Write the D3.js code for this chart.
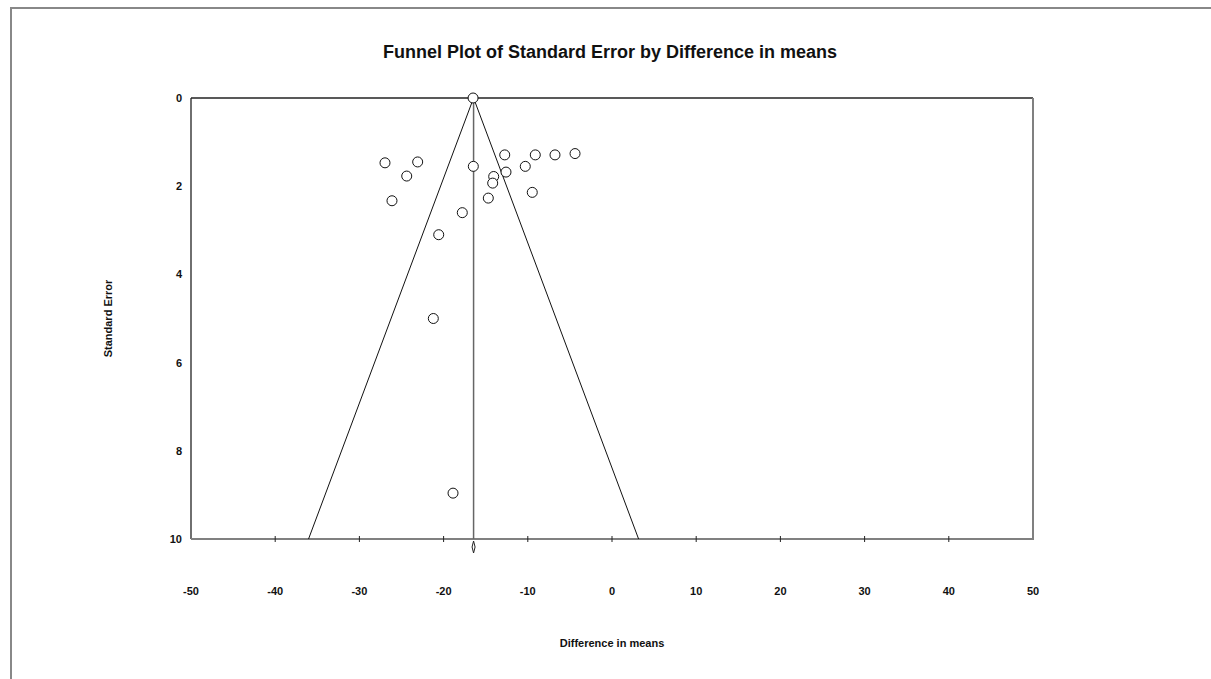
<!DOCTYPE html>
<html>
<head>
<meta charset="utf-8">
<script src="https://cdn.jsdelivr.net/npm/d3@7"></script>
<style>
  body { margin: 0; background: #fff; }
  svg { display: block; font-family: "Liberation Sans", Arial, sans-serif; }
</style>
</head>
<body>
<div id="chart"></div>
<script>
'use strict';

// studies: difference in means and its standard error
var diffs = [-26.96, -23.08, -24.38, -26.13, -20.58, -16.47, -12.74, -9.11, -6.77, -4.39,
             -10.30, -12.59, -14.05, -14.17, -9.47, -14.69, -17.78, -21.22, -18.88, -16.50];
var stdErrs = [1.47, 1.45, 1.77, 2.33, 3.10, 1.55, 1.29, 1.29, 1.29, 1.26,
               1.55, 1.68, 1.78, 1.93, 2.14, 2.27, 2.60, 5.00, 8.96, 0.00];

// combined estimate and its interval (diamond under the axis)
var pooled = [-16.44];
var pooledCI = [-16.62, -16.26];

var xTicks = [-50, -40, -30, -20, -10, 0, 10, 20, 30, 40, 50];
var yTicks = [0, 2, 4, 6, 8, 10];

var width = 1211;
var height = 679;
var margin = {top: 98, right: 178, bottom: 140, left: 191};

var svg = d3.select('#chart').append('svg')
	.attr('width', width)
	.attr('height', height);

// outer frame
svg.append('rect')
	.attr('x', 11).attr('y', 8)
	.attr('width', width + 20).attr('height', height + 20)
	.style('fill', 'none')
	.style('stroke', '#888')
	.style('stroke-width', 2);

var x = d3.scaleLinear().domain([-50, 50]).range([margin.left, width - margin.right]);
var y = d3.scaleLinear().domain([0, 10]).range([margin.top, height - margin.bottom]);

var x0 = x.range()[0], x1 = x.range()[1];
var y0 = y.range()[0], y1 = y.range()[1];

svg.append('text')
	.attr('x', 610).attr('y', 58)
	.attr('text-anchor', 'middle')
	.style('font-size', '18px')
	.style('font-weight', 'bold')
	.style('fill', '#111')
	.text('Funnel Plot of Standard Error by Difference in means');

// plot box: dark top/left, grey bottom/right
svg.append('line').attr('x1', x0).attr('y1', y0).attr('x2', x1).attr('y2', y0)
	.style('stroke', '#222').style('stroke-width', 1.3);
svg.append('line').attr('x1', x0).attr('y1', y0).attr('x2', x0).attr('y2', y1)
	.style('stroke', '#222').style('stroke-width', 1.3);
svg.append('line').attr('x1', x0).attr('y1', y1).attr('x2', x1 + 1).attr('y2', y1)
	.style('stroke', '#808080').style('stroke-width', 2);
svg.append('line').attr('x1', x1).attr('y1', y0).attr('x2', x1).attr('y2', y1)
	.style('stroke', '#808080').style('stroke-width', 2);

// x ticks crossing the bottom line
svg.append('g').selectAll('line')
	.data(xTicks.slice(1, -1))
	.enter().append('line')
	.attr('x1', function(d){ return x(d); })
	.attr('x2', function(d){ return x(d); })
	.attr('y1', y1 - 3).attr('y2', y1 + 3)
	.style('stroke', '#222').style('stroke-width', 1);

svg.append('g').selectAll('text')
	.data(xTicks)
	.enter().append('text')
	.attr('x', function(d){ return x(d); })
	.attr('y', 595)
	.attr('text-anchor', 'middle')
	.style('font-size', '11px')
	.style('font-weight', 'bold')
	.style('fill', '#111')
	.text(function(d){ return d; });

svg.append('g').selectAll('text')
	.data(yTicks)
	.enter().append('text')
	.attr('x', 182)
	.attr('y', function(d){ return y(d) + 4; })
	.attr('text-anchor', 'end')
	.style('font-size', '11px')
	.style('font-weight', 'bold')
	.style('fill', '#111')
	.text(function(d){ return d; });

svg.append('text')
	.attr('x', 612).attr('y', 647)
	.attr('text-anchor', 'middle')
	.style('font-size', '11px')
	.style('font-weight', 'bold')
	.style('fill', '#111')
	.text('Difference in means');

svg.append('text')
	.attr('transform', 'translate(112,' + ((y0 + y1) / 2) + ') rotate(-90)')
	.attr('text-anchor', 'middle')
	.style('font-size', '11px')
	.style('font-weight', 'bold')
	.style('fill', '#111')
	.text('Standard Error');

// mean line
svg.append('line')
	.attr('x1', x(pooled[0])).attr('x2', x(pooled[0]))
	.attr('y1', y0).attr('y2', y1)
	.style('stroke', '#666').style('stroke-width', 1.5);

// funnel, 95% limits
var line = d3.line()
	.x(function(d){ return x(d[0]); })
	.y(function(d){ return y(d[1]); });
var seMax = 10;
var funnel = [[pooled[0] - 1.96 * seMax, seMax], [pooled[0], 0], [pooled[0] + 1.96 * seMax, seMax]];
svg.append('path')
	.attr('d', line(funnel))
	.style('fill', 'none')
	.style('stroke', '#111')
	.style('stroke-width', 1);

// combined-effect diamond
var dy = y1 + 2;
svg.append('path')
	.attr('d', 'M' + x(pooledCI[0]) + ',' + (dy + 6) +
		'L' + x(pooled[0]) + ',' + dy +
		'L' + x(pooledCI[1]) + ',' + (dy + 6) +
		'L' + x(pooled[0]) + ',' + (dy + 12) + 'Z')
	.style('fill', 'none')
	.style('stroke', '#222')
	.style('stroke-width', 1);

// studies
svg.append('g').selectAll('circle')
	.data(diffs.map(function(d, i){ return [d, stdErrs[i]]; }))
	.enter().append('circle')
	.attr('cx', function(d){ return x(d[0]); })
	.attr('cy', function(d){ return y(d[1]); })
	.attr('r', 5)
	.style('fill', 'white')
	.style('stroke', '#111')
	.style('stroke-width', 1);
</script>
</body>
</html>
